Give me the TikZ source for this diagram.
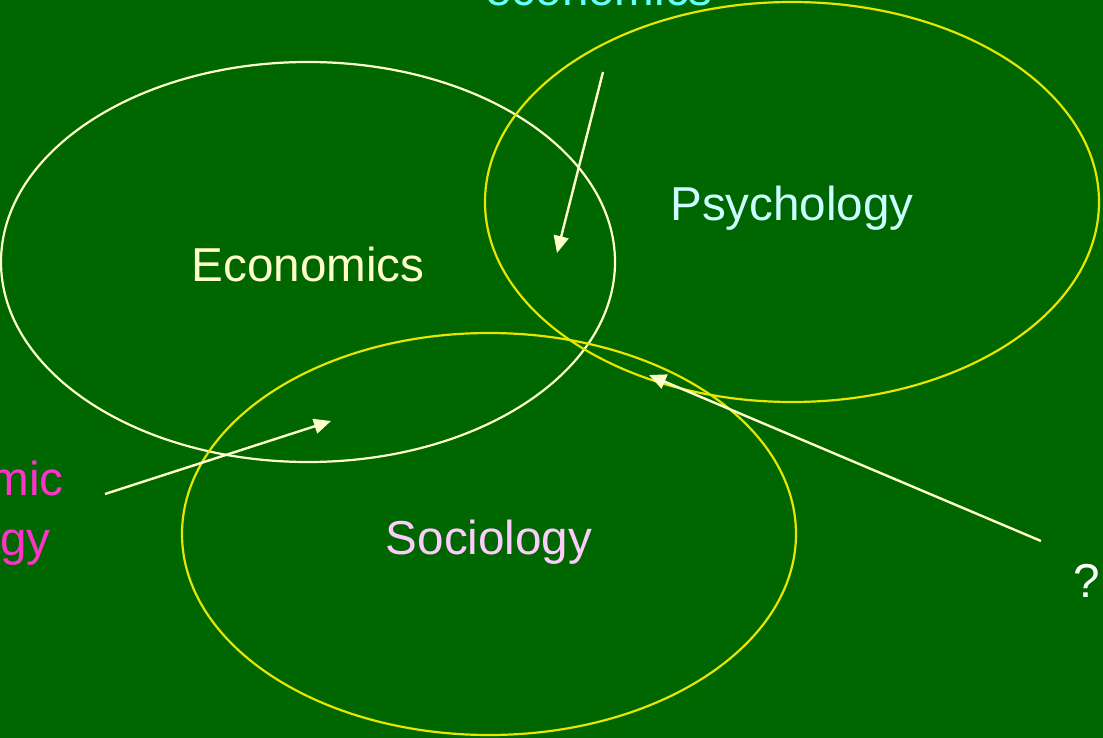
\documentclass[tikz,border=0pt]{standalone}
\usepackage{fontspec}
\setmainfont{Liberation Sans}
\usetikzlibrary{arrows.meta}
\definecolor{board}{RGB}{0,102,0}
\definecolor{cream}{RGB}{255,255,204}
\definecolor{lemon}{RGB}{230,230,0}
\definecolor{aqua}{RGB}{102,255,255}
\definecolor{paleaqua}{RGB}{204,255,255}
\definecolor{palepink}{RGB}{255,204,255}
\definecolor{pinkish}{RGB}{255,51,204}
\tikzset{
	lbl/.style={font=\fontsize{47.6}{57}\selectfont,inner sep=0pt,anchor=base},
	ptr/.style={cream,line width=2.4pt,-{Triangle[length=17pt,width=15pt]}}
}
\begin{document}
\begin{tikzpicture}[x=1pt,y=-1pt]
	\useasboundingbox (0,0) rectangle (1103,738);
	\clip (0,0) rectangle (1103,738);
	\fill[board] (0,0) rectangle (1103,738);
	% the three fields
	\draw[cream,line width=2.2pt] (308,262) ellipse [x radius=307,y radius=200];
	\draw[lemon,line width=2.2pt] (792,202) ellipse [x radius=307,y radius=200];
	\draw[lemon,line width=2.2pt] (489,534) ellipse [x radius=307,y radius=201];
	\node[lbl,cream] (econ) at (308,281) {Economics};
	\node[lbl,paleaqua] (psych) at (792,221) {Psychology};
	\node[lbl,palepink] (socio) at (489,554) {Sociology};
	% labels of the overlaps
	\node[lbl,aqua,anchor=base east] (beh) at (713,6) {economics};
	\node[lbl,pinkish,anchor=base east] (esoc1) at (64,495) {Economic};
	\node[lbl,pinkish,anchor=base east] (esoc2) at (51,555) {Sociology};
	\node[lbl,white] (what) at (1087,597) {?};
	\coordinate (behS) at (603,72);
	\coordinate (behT) at (557,253);
	\coordinate (esocS) at (105,494);
	\coordinate (esocT) at (331,421);
	\coordinate (whatS) at (1041,541);
	\coordinate (whatT) at (649,375);
	\draw[ptr] (behS)--(behT);
	\draw[ptr] (esocS)--(esocT);
	\draw[ptr] (whatS)--(whatT);
\end{tikzpicture}
\end{document}
